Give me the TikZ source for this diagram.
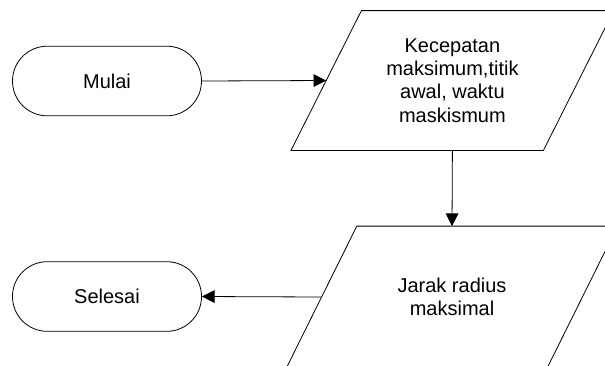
\documentclass[tikz,border=0pt]{standalone}
\usepackage{fontspec}
\setmainfont{Liberation Sans}
\usetikzlibrary{arrows.meta}

\begin{document}
\begin{tikzpicture}[x=0.75pt,y=-0.75pt,line width=0.6pt]
	\tikzstyle{terminal}=[draw, rectangle, rounded corners=26pt, minimum width=141.75pt, minimum height=52.2pt, font=\fontsize{15}{17.5}\selectfont]
	\tikzstyle{data}=[rectangle, align=center, font=\fontsize{15}{17.5}\selectfont]
	\tikzstyle{alur}=[-{Triangle[length=9.5pt,width=9.5pt]}]
	\clip (0,0) rectangle (605,365);
	\node[terminal] (mulai) at (107,81) {Mulai};
	\node[data, minimum width=188.7pt, minimum height=104.25pt] (masukan) at (452.4,80.5) {Kecepatan\\maksimum,titik\\awal, waktu\\maskismum};
	\node[data, minimum width=195pt, minimum height=105.75pt] (keluaran) at (452,297) {Jarak radius\\maksimal};
	\node[terminal] (selesai) at (107,296.5) {Selesai};
	% sisi miring jajaran genjang
	\foreach \n in {masukan,keluaran}
		\draw ([xshift=26.4pt]\n.north west) -- ([xshift=26.4pt]\n.north east) -- ([xshift=-26.4pt]\n.south east) -- ([xshift=-26.4pt]\n.south west) -- cycle;
	\draw[alur] (mulai.east) -- (masukan.west);
	\draw[alur] (masukan.south) -- (keluaran.north);
	\draw[alur] (keluaran.west) -- (selesai.east);
\end{tikzpicture}
\end{document}
